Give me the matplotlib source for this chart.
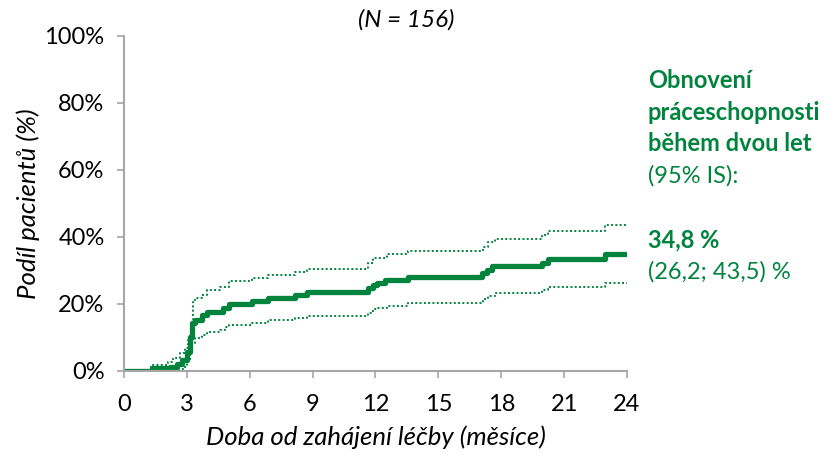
import matplotlib
matplotlib.use("Agg")
import matplotlib.pyplot as plt
from matplotlib.ticker import FuncFormatter

# Data (months, percent)
main_t = [0, 1.35, 2.19, 2.51, 2.75, 2.99, 3.15, 3.23, 3.39, 3.71, 3.94, 4.74, 5.02,
          6.09, 6.89, 8.16, 8.75, 11.66, 11.9, 12.06, 12.45, 13.56, 17.07, 17.30, 17.54,
          19.93, 20.25, 22.95, 24]
main_v = [0, 0.7, 1.2, 2.0, 3.2, 5.7, 10.1, 14.1, 15.1, 16.6, 17.6, 18.6, 19.9,
          20.9, 21.7, 22.6, 23.6, 24.6, 25.6, 26.3, 27.1, 28.1, 29.1, 30.1, 31.3,
          32.2, 33.2, 34.8, 34.8]

upper_t = [0, 1.3, 2.11, 2.35, 2.67, 2.91, 3.07, 3.23, 3.31, 3.39, 3.71, 3.94, 4.6, 5.0,
           6.09, 6.89, 8.16, 8.75, 11.66, 11.9, 12.55, 13.56, 17.14, 17.38, 17.7,
           19.93, 20.25, 22.95, 24]
upper_v = [0, 1.7, 2.7, 3.7, 5.2, 6.7, 9.2, 15.1, 20.6, 21.6, 22.6, 24.1, 25.1, 26.8,
           27.7, 28.7, 29.6, 30.4, 32.1, 33.6, 34.7, 35.8, 37.0, 38.3, 39.3,
           40.5, 41.8, 43.5, 43.5]

lower_t = [0, 2.6, 2.83, 3.0, 3.15, 3.23, 3.39, 3.71, 3.94, 4.6, 4.8, 5.0,
           6.09, 6.89, 8.16, 8.75, 11.66, 11.9, 12.1, 12.55, 13.56, 17.14, 17.38, 17.7,
           19.93, 20.25, 22.95, 24]
lower_v = [0, 0.4, 1.2, 3.2, 5.7, 8.2, 9.7, 10.7, 11.6, 12.1, 13.1, 13.6,
           14.3, 15.0, 15.6, 16.3, 17.1, 18.3, 18.8, 19.4, 20.3, 21.3, 22.3, 23.1,
           24.1, 25.1, 26.2, 26.2]

x_ticks = [0, 3, 6, 9, 12, 15, 18, 21, 24]
y_ticks = [0, 20, 40, 60, 80, 100]

GREEN = "#00843D"
GRAY = "#A6A6A6"
FONT = "Lato"

fig = plt.figure(figsize=(8.37, 4.61), dpi=100)
W, H = 837, 461
ax = fig.add_axes([124 / W, (H - 370.7) / H, (627 - 124) / W, (370.7 - 35.7) / H])

ax.plot(lower_t, lower_v, drawstyle="steps-post", color=GREEN, lw=1.4,
        linestyle=(0, (1, 1.2)))
ax.plot(upper_t, upper_v, drawstyle="steps-post", color=GREEN, lw=1.4,
        linestyle=(0, (1, 1.2)))
ax.plot(main_t, main_v, drawstyle="steps-post", color=GREEN, lw=3.8,
        solid_capstyle="butt", solid_joinstyle="round")

ax.set_xlim(0, 24)
ax.set_ylim(0, 100)
ax.set_xticks(x_ticks)
ax.set_yticks(y_ticks)
ax.yaxis.set_major_formatter(FuncFormatter(lambda v, p: f"{v:.0f}%"))
for s in ["top", "right"]:
    ax.spines[s].set_visible(False)
for s in ["left", "bottom"]:
    ax.spines[s].set_color(GRAY)
    ax.spines[s].set_linewidth(1.5)
ax.tick_params(axis="both", direction="out", length=5, width=1.2, color=GRAY,
               labelsize=17, labelcolor="black")
ax.tick_params(axis="x", pad=12)
ax.tick_params(axis="y", pad=9)
for lab in ax.get_xticklabels() + ax.get_yticklabels():
    lab.set_fontfamily(FONT)

ax.set_xlabel("Doba od zahájení léčby (měsíce)", fontsize=18.5, fontstyle="italic",
              fontfamily=FONT, labelpad=7)
ax.set_ylabel("Podíl pacientů (%)", fontsize=18.5, fontstyle="italic",
              fontfamily=FONT, labelpad=3)

fig.text(406 / W, 1 - 20 / H, "(N = 156)", fontsize=17.5, fontstyle="italic",
         fontfamily=FONT, ha="center", va="center")

tx = 648 / W
lines = [
    ("Obnovení", 88, "bold"),
    ("práceschopnosti", 120, "bold"),
    ("během dvou let", 151, "bold"),
    ("(95% IS):", 183, "normal"),
    ("34,8 %", 247, "bold"),
    ("(26,2; 43,5) %", 279, "normal"),
]
for txt, yb, wt in lines:
    fig.text(tx, 1 - yb / H, txt, fontsize=17, fontweight=wt, color=GREEN,
             fontfamily=FONT, ha="left", va="baseline")

fig.savefig("out.png", dpi=100)
